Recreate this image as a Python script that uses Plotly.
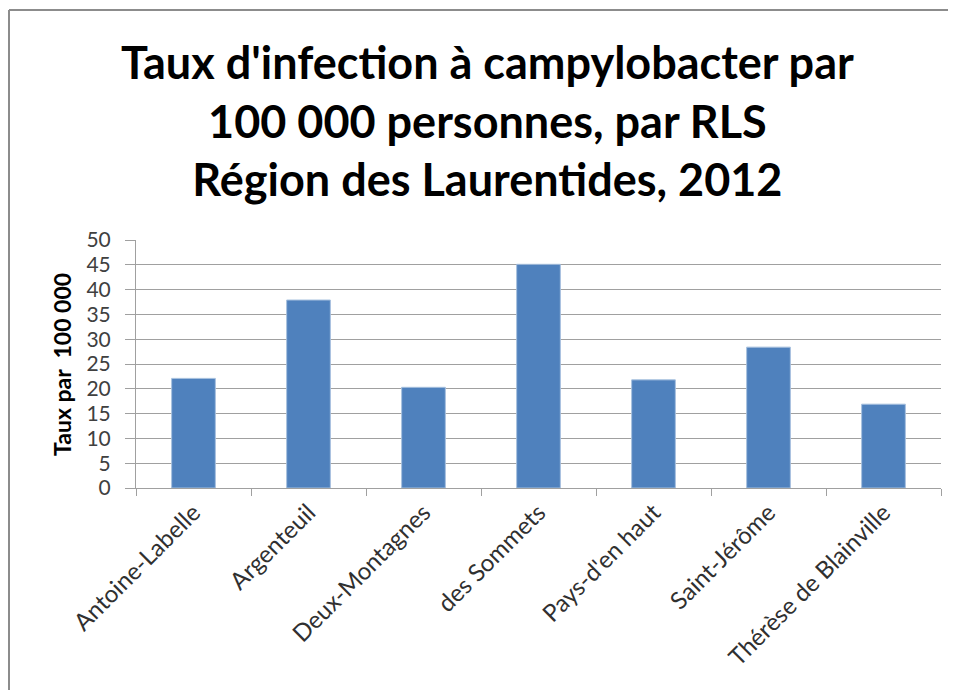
import plotly.graph_objects as go

categories = ["Antoine-Labelle", "Argenteuil", "Deux-Montagnes", "des Sommets",
              "Pays-d'en haut", "Saint-Jérôme", "Thérèse de Blainville"]
values = [22.1, 37.9, 20.3, 45.1, 21.8, 28.4, 16.9]
y_ticks = list(range(0, 55, 5))
title_lines = ["Taux d'infection à campylobacter par", "100 000 personnes, par RLS",
               "Région des Laurentides, 2012"]

# figure sits 8px in from the page edge (body margin); sized so no scrollbars appear
OFF = 8
W, H = 956 - 2 * OFF, 698 - 2 * OFF
L, T = 136 - OFF, 240 - OFF
R = W - (941 - OFF)
B = H - (488 - OFF)
pw, ph = W - L - R, H - T - B


def px_x(page_x):
    return (page_x - OFF - L) / pw


def px_y(page_y):
    return (ph - (page_y - OFF - T)) / ph


fig = go.Figure(go.Bar(
    x=categories, y=values,
    marker=dict(color="#4F81BD", line=dict(color="#A7C0DE", width=1)),
))

border = dict(color="#8C8C8C", width=2)

fig.update_layout(
    width=W, height=H,
    margin=dict(l=L, r=R, t=T, b=B, autoexpand=False),
    paper_bgcolor="white", plot_bgcolor="white",
    bargap=0.62,
    showlegend=False,
    font=dict(family="Lato", color="#404040"),
    xaxis=dict(
        tickangle=-45, tickfont=dict(size=24, color="#303030"),
        showline=True, linecolor="#A0A0A0", linewidth=1,
        ticks="outside", ticklen=7, tickcolor="#A0A0A0", tickson="boundaries",
        showgrid=False,
    ),
    yaxis=dict(
        range=[0, 50], tickvals=y_ticks, tickfont=dict(size=21, color="#404040"),
        showline=True, linecolor="#A0A0A0", linewidth=1,
        ticks="outside", ticklen=10, tickcolor="#A0A0A0", ticklabelstandoff=10,
        showgrid=True, gridcolor="#A0A0A0", gridwidth=1,
        zeroline=False,
    ),
    annotations=[
        dict(text="<br>".join(title_lines), xref="paper", yref="paper",
             x=px_x(487), y=px_y(120), xanchor="center", yanchor="middle",
             showarrow=False, font=dict(family="Lato", size=45, color="black", weight="bold")),
        dict(text="Taux par  100 000", xref="paper", yref="paper", textangle=-90,
             x=px_x(62), y=px_y(365), xanchor="center", yanchor="middle",
             showarrow=False, font=dict(family="Lato", size=23, color="black", weight="bold")),
    ],
    shapes=[
        dict(type="line", xref="paper", yref="paper",
             x0=px_x(9), x1=px_x(OFF + W), y0=px_y(10), y1=px_y(10), line=border, layer="below"),
        dict(type="line", xref="paper", yref="paper",
             x0=px_x(9), x1=px_x(9), y0=px_y(10), y1=px_y(OFF + H), line=border, layer="below"),
    ],
)

fig.write_html("out.html")
